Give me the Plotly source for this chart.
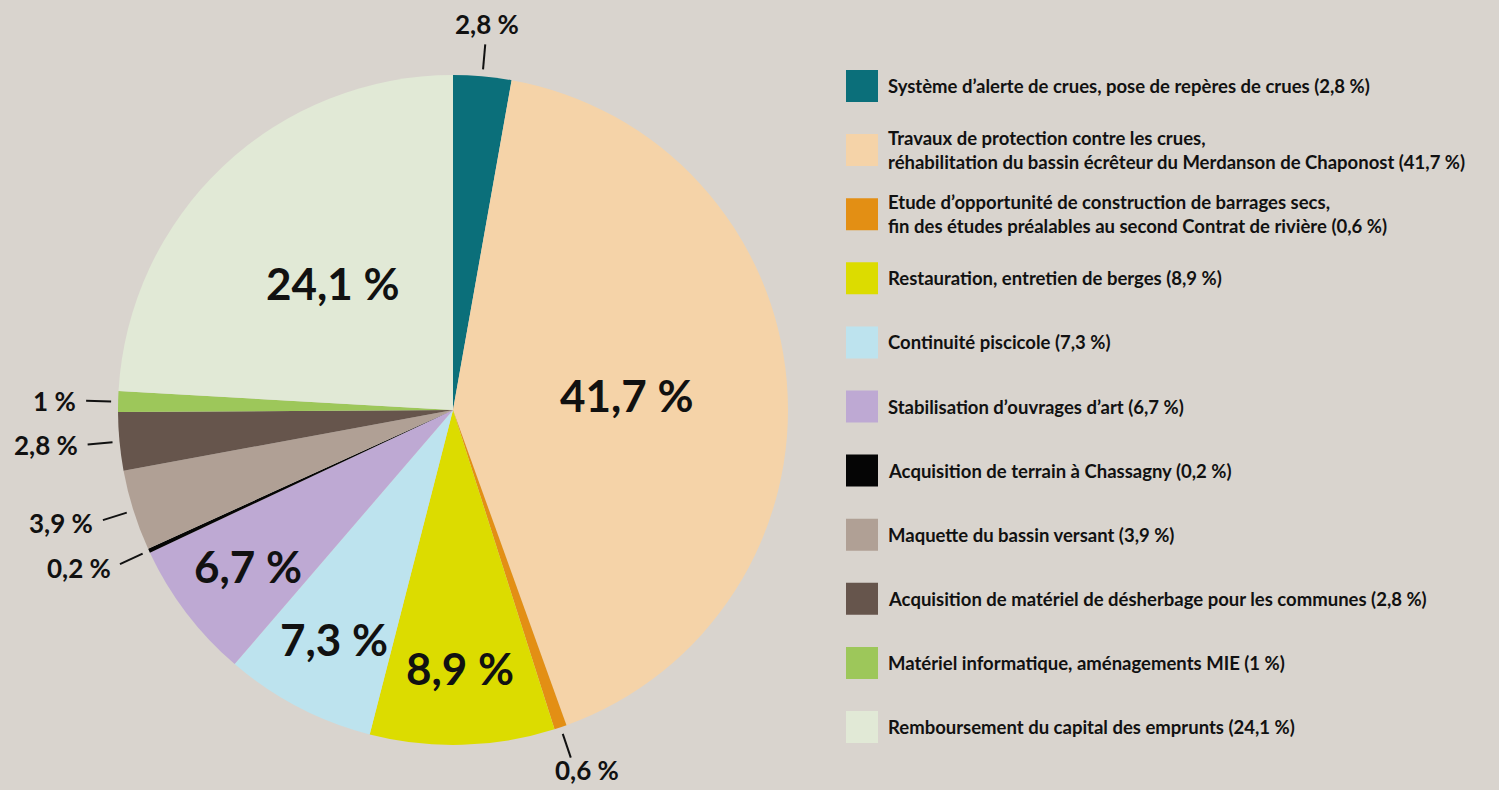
import math
import plotly.graph_objects as go

# ---- data ----
categories = [
    "Système d’alerte de crues, pose de repères de crues",
    "Travaux de protection contre les crues,<br>réhabilitation du bassin écrêteur du Merdanson de Chaponost",
    "Etude d’opportunité de construction de barrages secs,<br>fin des études préalables au second Contrat de rivière",
    "Restauration, entretien de berges",
    "Continuité piscicole",
    "Stabilisation d’ouvrages d’art",
    "Acquisition de terrain à Chassagny",
    "Maquette du bassin versant",
    "Acquisition de matériel de désherbage pour les communes",
    "Matériel informatique, aménagements MIE",
    "Remboursement du capital des emprunts",
]
values = [2.8, 41.7, 0.6, 8.9, 7.3, 6.7, 0.2, 3.9, 2.8, 1.0, 24.1]
value_labels = ["2,8 %", "41,7 %", "0,6 %", "8,9 %", "7,3 %", "6,7 %",
                "0,2 %", "3,9 %", "2,8 %", "1 %", "24,1 %"]
colors = ["#0b6f7a", "#f5d3a8", "#e38f14", "#dcdc00", "#bde3ee", "#bea9d3",
          "#050505", "#b0a095", "#66554c", "#9dc75a", "#e1e9d6"]

# ---- layout constants ----
W, H = 1499, 790
BG = "#d9d4ce"
FONT = "Lato"
CX, CY, R = 453, 410, 335

fig = go.Figure(go.Pie(
    labels=categories, values=values, sort=False, direction="clockwise",
    rotation=0, marker=dict(colors=colors, line=dict(width=0)),
    textinfo="none", hoverinfo="label+percent", showlegend=False,
    domain=dict(x=[(CX - R) / W, (CX + R) / W],
                y=[(H - CY - R) / H, (H - CY + R) / H]),
))


def px2paper(x, y):
    return x / W, 1 - y / H


annotations = []
shapes = []
total = sum(values)
cum = 0.0
for v, txt in zip(values, value_labels):
    mid = (cum + v / 2) / total * 2 * math.pi
    cum += v
    s, c = math.sin(mid), math.cos(mid)
    if v >= 5:
        r = 0.52 * R if v > 20 else 0.77 * R
        x, y = px2paper(CX + r * s, CY - r * c)
        annotations.append(dict(x=x, y=y, xref="paper", yref="paper", text=txt,
                                showarrow=False, xanchor="center", yanchor="middle",
                                font=dict(family=FONT, size=44, color="#111", weight="bold")))
    else:
        r1, r2 = R + 7, R + 32
        x0, y0 = px2paper(CX + r1 * s, CY - r1 * c)
        x1, y1 = px2paper(CX + r2 * s, CY - r2 * c)
        shapes.append(dict(type="line", xref="paper", yref="paper", x0=x0, y0=y0,
                           x1=x1, y1=y1, line=dict(color="#111", width=2)))
        xs = 0
        if abs(s) > 0.7:
            rl = R + 40
            xa = "right" if s < 0 else "left"
        else:
            rl = R + 52 if c > 0 else R + 45
            xa = "center"
            xs = 0 if c > 0 else 12
        lx, ly = px2paper(CX + rl * s, CY - rl * c)
        annotations.append(dict(x=lx, y=ly, xref="paper", yref="paper", text=txt,
                                showarrow=False, xanchor=xa, yanchor="middle", xshift=xs,
                                font=dict(family=FONT, size=26, color="#111", weight="bold")))

# ---- custom legend ----
LEG_X0, LEG_SQ, LEG_Y0, LEG_DY, LEG_TX = 846, 32, 86, 64.1, 886
for i, (cat, txt, col) in enumerate(zip(categories, value_labels, colors)):
    yc = LEG_Y0 + i * LEG_DY
    xa0, ya0 = px2paper(LEG_X0, yc - LEG_SQ / 2)
    xa1, ya1 = px2paper(LEG_X0 + LEG_SQ, yc + LEG_SQ / 2)
    shapes.append(dict(type="rect", xref="paper", yref="paper", x0=xa0, y0=ya0,
                       x1=xa1, y1=ya1, fillcolor=col, line=dict(width=0)))
    tx, ty = px2paper(LEG_TX, yc)
    annotations.append(dict(x=tx, y=ty, xref="paper", yref="paper",
                            text=f"{cat} ({txt})", showarrow=False,
                            xanchor="left", yanchor="middle", align="left",
                            font=dict(family=FONT, size=18.5, color="#111", weight="bold")))

fig.update_layout(
    width=W, height=H, margin=dict(l=0, r=0, t=0, b=0),
    paper_bgcolor=BG, plot_bgcolor=BG,
    annotations=annotations, shapes=shapes,
)
fig.write_html("out.html", config={"displayModeBar": False},
               post_script="document.body.style.margin='0';document.body.style.overflow='hidden';")
